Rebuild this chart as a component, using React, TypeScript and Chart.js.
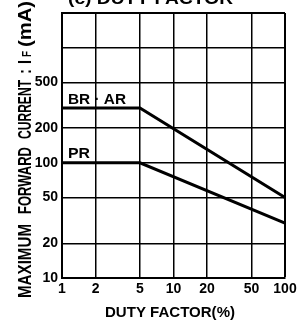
import React, { useEffect, useRef } from "react";
import { Chart, registerables } from "chart.js";

Chart.register(...registerables);

// Data
const dutyBRAR = [1, 5, 100];
const currentBRAR = [300, 300, 50];
const dutyPR = [1, 5, 100];
const currentPR = [100, 100, 30];

const xTickValues = [1, 2, 5, 10, 20, 50, 100];
const yTickValues = [10, 20, 50, 100, 200, 500, 1000, 2000];
const yTickLabels = ["10", "20", "50", "100", "200", "500", "", ""];

const seriesNames = ["BR · AR", "PR"];

const FONT = "'Liberation Sans', Arial, sans-serif";

function drawFit(ctx: CanvasRenderingContext2D, text: string, x: number, y: number, w: number) {
  const m = ctx.measureText(text).width;
  ctx.save();
  ctx.translate(x, y);
  ctx.scale(w / m, 1);
  ctx.fillText(text, 0, 0);
  ctx.restore();
}

const textPlugin = {
  id: "texts",
  afterDraw(chart: any) {
    const ctx: CanvasRenderingContext2D = chart.ctx;
    const xs = chart.scales.x;
    const ys = chart.scales.y;
    ctx.save();
    ctx.fillStyle = "#000";
    ctx.textBaseline = "alphabetic";
    ctx.textAlign = "left";

    // series labels
    ctx.font = `bold 15px ${FONT}`;
    const lx = xs.getPixelForValue(1) + 6;
    drawFit(ctx, seriesNames[0], lx, ys.getPixelForValue(currentBRAR[0]) - 4, 58);
    drawFit(ctx, seriesNames[1], lx, ys.getPixelForValue(currentPR[0]) - 5, 22);

    // x axis title
    ctx.font = `bold 15px ${FONT}`;
    drawFit(ctx, "DUTY FACTOR(%)", 105, 317, 130);

    // top (cropped) title
    ctx.font = `bold 16px ${FONT}`;
    drawFit(ctx, "(c) DUTY FACTOR", 68, 4, 165);

    // y axis title rotated
    ctx.save();
    ctx.translate(31, 298);
    ctx.rotate(-Math.PI / 2);
    ctx.font = `bold 18px ${FONT}`;
    drawFit(ctx, "MAXIMUM", 0, 0, 74);
    drawFit(ctx, "FORWARD", 84, 0, 67);
    drawFit(ctx, "CURRENT", 159, 0, 59);
    drawFit(ctx, ":", 224, 0, 5);
    drawFit(ctx, "I", 234, 0, 4);
    ctx.font = `bold 12px ${FONT}`;
    drawFit(ctx, "F", 241, 0, 6);
    ctx.font = `bold 18px ${FONT}`;
    drawFit(ctx, "(mA)", 251, 0, 46);
    ctx.restore();

    ctx.restore();
  },
};

export default function App() {
  const ref = useRef<HTMLCanvasElement>(null);
  useEffect(() => {
    if (!ref.current) return;
    const chart = new Chart(ref.current, {
      type: "line",
      data: {
        datasets: [
          {
            label: seriesNames[0],
            data: dutyBRAR.map((d, i) => ({ x: d, y: currentBRAR[i] })),
            borderColor: "#000",
            borderWidth: 3,
            pointRadius: 0,
            tension: 0,
          },
          {
            label: seriesNames[1],
            data: dutyPR.map((d, i) => ({ x: d, y: currentPR[i] })),
            borderColor: "#000",
            borderWidth: 3,
            pointRadius: 0,
            tension: 0,
          },
        ],
      },
      options: {
        animation: false,
        responsive: false,
        devicePixelRatio: 1,
        layout: { padding: { top: 13, right: 22, left: 0, bottom: 0 } },
        plugins: { legend: { display: false }, tooltip: { enabled: false }, title: { display: false } },
        scales: {
          x: {
            type: "logarithmic",
            min: 1,
            max: 100,
            afterBuildTicks: (scale: any) => {
              scale.ticks = xTickValues.map((v) => ({ value: v }));
            },
            afterFit: (scale: any) => {
              scale.height = 42;
            },
            ticks: {
              autoSkip: false,
              maxRotation: 0,
              padding: 3,
              color: "#000",
              font: { family: FONT, size: 14, weight: "bold" },
              callback: (v: any) => String(v),
            },
            grid: {
              color: "#000",
              lineWidth: (c: any) => (c.tick && c.tick.value === 100 ? 2 : 1.5),
              drawTicks: false,
            },
            border: { color: "#000", width: 2 },
          },
          y: {
            type: "logarithmic",
            min: 10,
            max: 2000,
            afterBuildTicks: (scale: any) => {
              scale.ticks = yTickValues.map((v) => ({ value: v }));
            },
            afterFit: (scale: any) => {
              scale.width = 62;
            },
            ticks: {
              autoSkip: false,
              padding: 4,
              color: "#000",
              font: { family: FONT, size: 14, weight: "bold" },
              callback: (v: any) => {
                const i = yTickValues.indexOf(Number(v));
                return i >= 0 ? yTickLabels[i] : "";
              },
            },
            grid: {
              color: "#000",
              lineWidth: (c: any) => (c.tick && c.tick.value === 2000 ? 2 : 1.5),
              drawTicks: false,
            },
            border: { color: "#000", width: 2 },
          },
        },
      },
      plugins: [textPlugin],
    } as any);
    return () => chart.destroy();
  }, []);
  return (
    <div style={{ position: "fixed", left: 0, top: 0, width: 307, height: 320, background: "#fff" }}>
      <canvas ref={ref} width={307} height={320} style={{ width: 307, height: 320, display: "block" }} />
    </div>
  );
}
